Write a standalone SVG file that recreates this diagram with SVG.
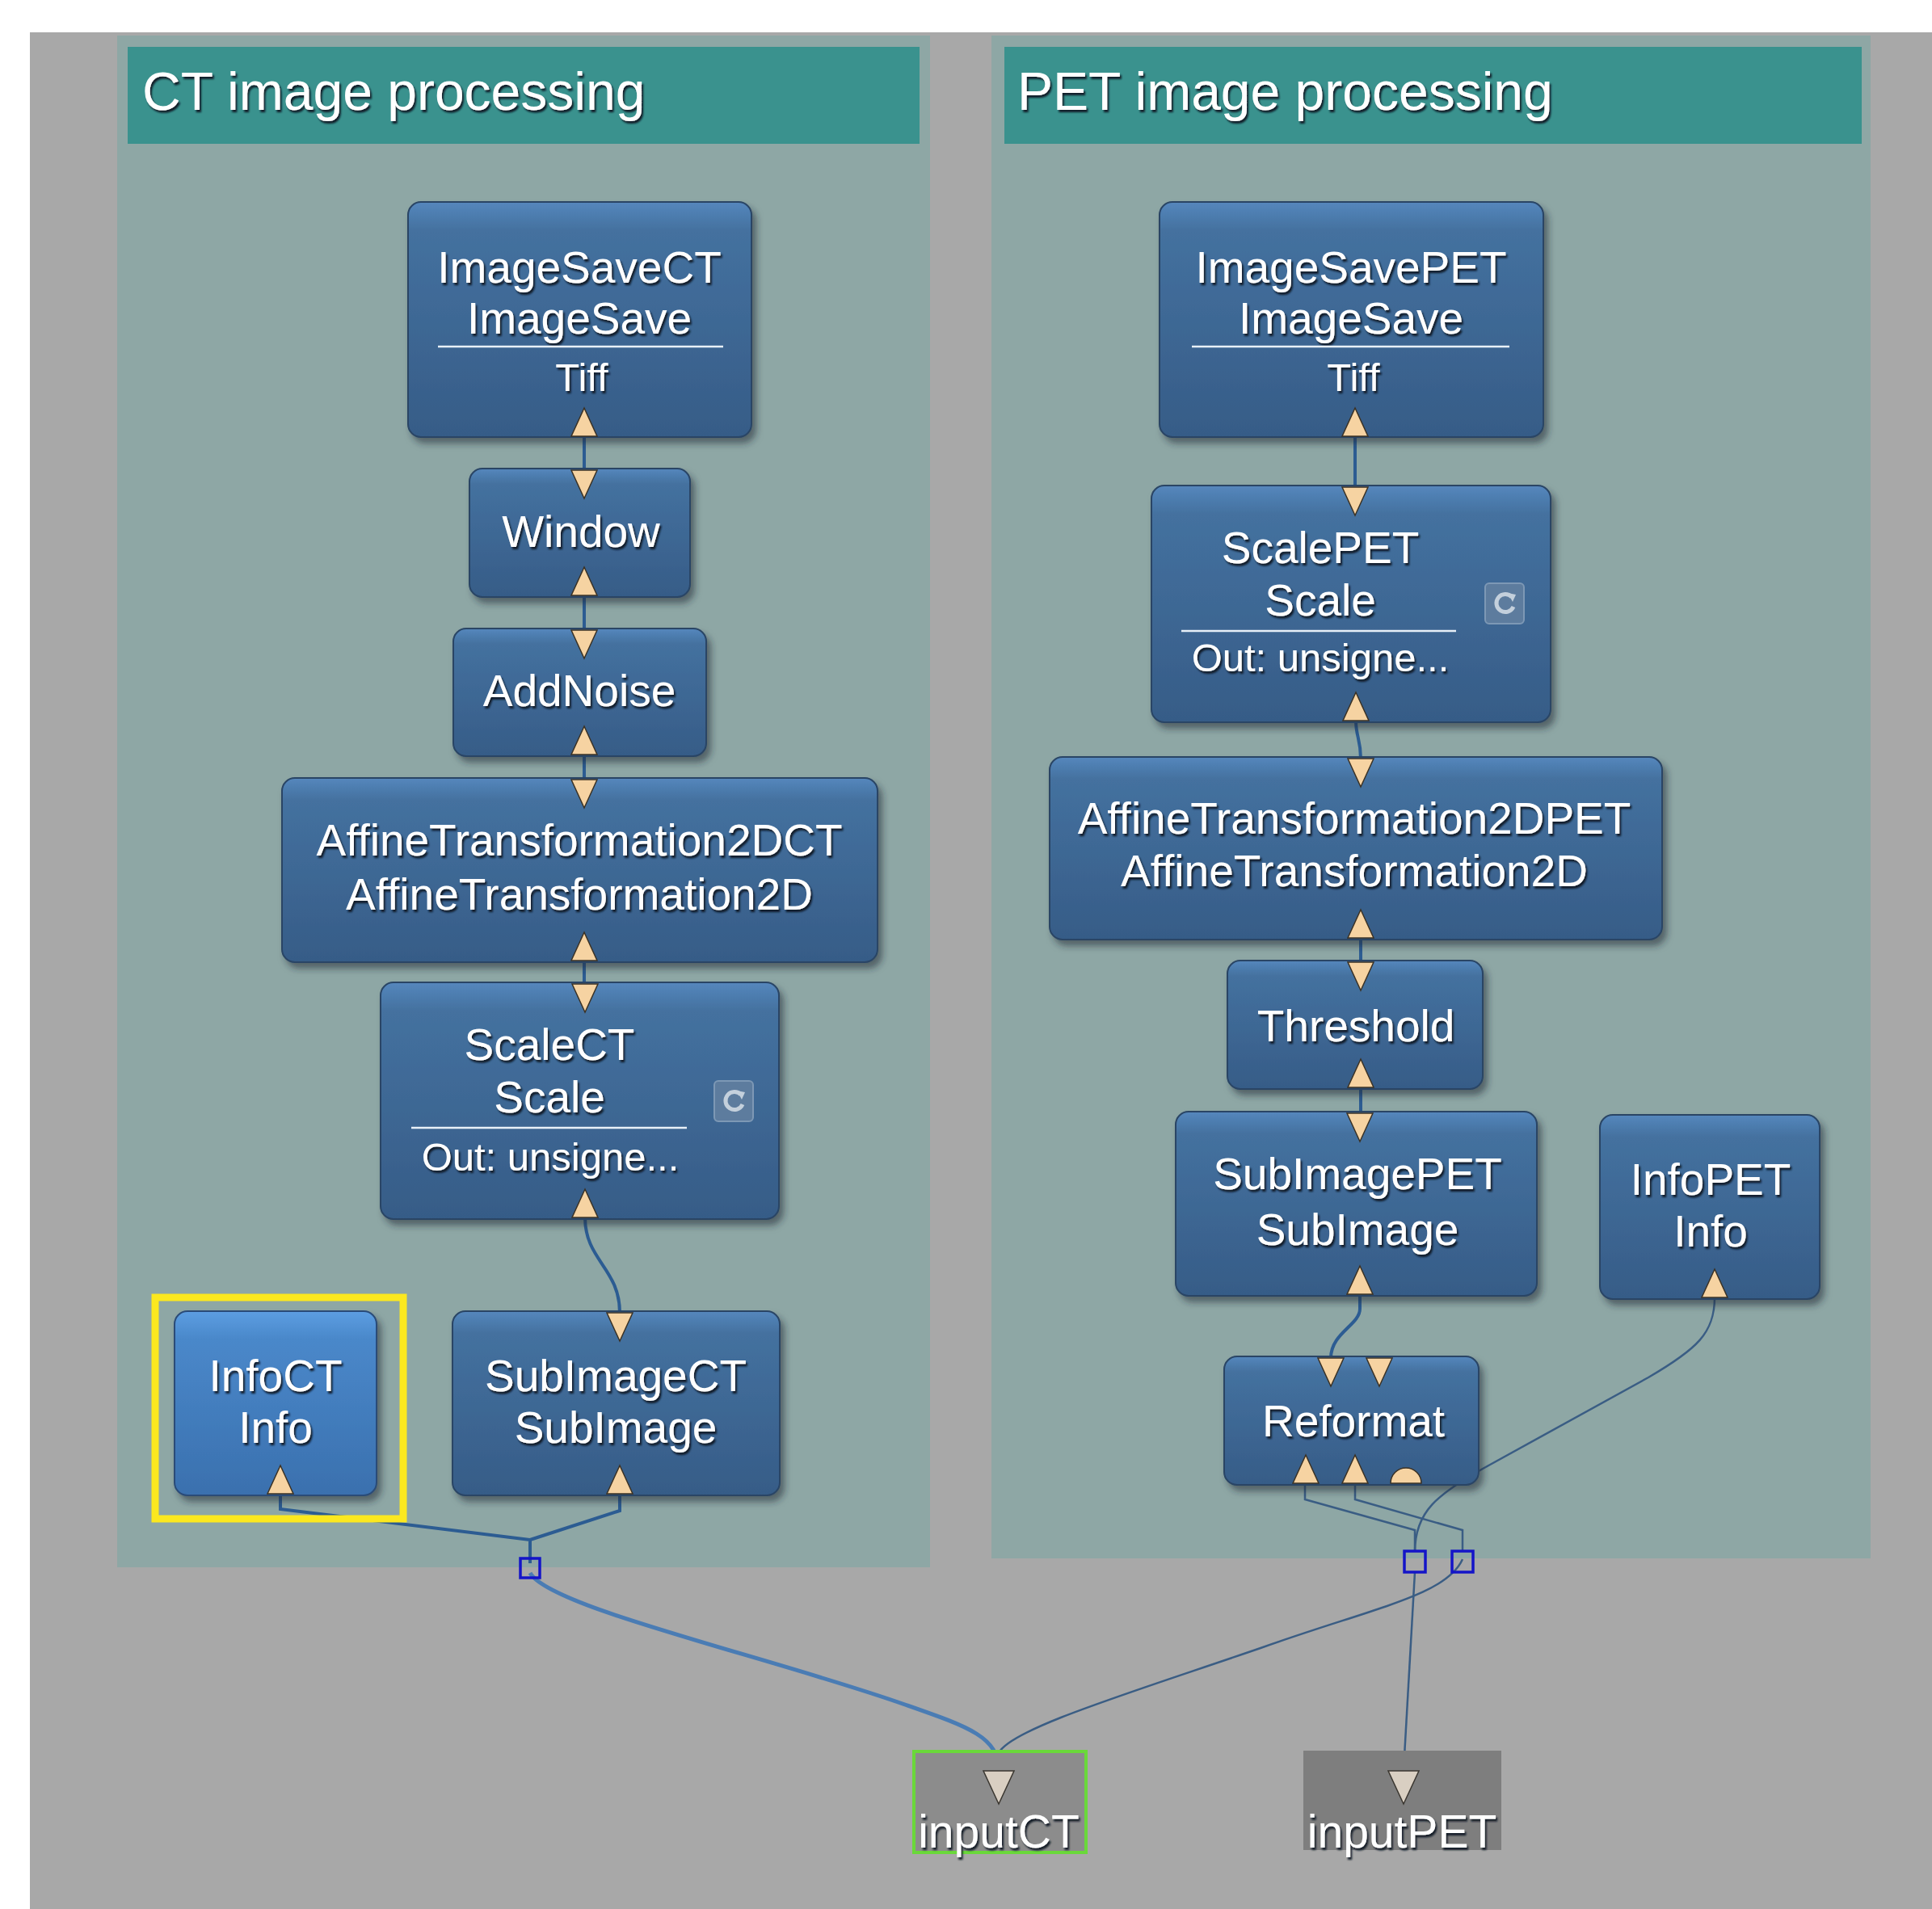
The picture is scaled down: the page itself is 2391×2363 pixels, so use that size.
<svg xmlns="http://www.w3.org/2000/svg" xmlns:xlink="http://www.w3.org/1999/xlink" width="2391" height="2363" viewBox="0 0 2391 2363">
<defs>
<style>
.t{font-family:"Liberation Sans",Arial,sans-serif;fill:#ffffff;text-anchor:middle;filter:url(#ts)}
.h{font-family:"Liberation Sans",Arial,sans-serif;fill:#ffffff;font-size:66px;filter:url(#ts)}
.n1{font-size:55px}
.n2{font-size:49px}
.node{fill:url(#ng);stroke:#294565;stroke-width:2;filter:url(#ds)}
.sel{fill:url(#sg);stroke:#2a4c78;stroke-width:2;filter:url(#ds)}
.sep{stroke:#e8f0f8;stroke-width:2.5}
.port{fill:#f6d3a2;stroke:#3b3225;stroke-width:1.5}
.c{fill:none;stroke:#2c5c92;stroke-width:4}
.thin{fill:none;stroke:#3a5d84;stroke-width:2.5}
.sq{fill:none;stroke:#1414c8;stroke-width:3.5}
.icon{fill:#5d7c9e;stroke:#7d98b5;stroke-width:2}
</style>
<linearGradient id="ng" x1="0" y1="0" x2="0" y2="1">
<stop offset="0" stop-color="#5587bd"/>
<stop offset="0.12" stop-color="#44719f"/>
<stop offset="1" stop-color="#365c87"/>
</linearGradient>
<linearGradient id="sg" x1="0" y1="0" x2="0" y2="1">
<stop offset="0" stop-color="#5c9ee2"/>
<stop offset="0.15" stop-color="#4a88ca"/>
<stop offset="1" stop-color="#3a70ae"/>
</linearGradient>
<filter id="ds" x="-10%" y="-10%" width="125%" height="130%">
<feDropShadow dx="5" dy="7" stdDeviation="4" flood-color="#1c2a36" flood-opacity="0.55"/>
</filter>
<filter id="ts" x="-5%" y="-20%" width="115%" height="150%">
<feDropShadow dx="2" dy="3" stdDeviation="0.8" flood-color="#0d1520" flood-opacity="0.95"/>
</filter>
<polygon id="tdown" class="port" points="-16,0 16,0 0,35"/>
<polygon id="tup" class="port" points="-16,35 16,35 0,0"/>
<g id="refresh">
<rect class="icon" x="0" y="0" width="48" height="50" rx="5"/>
<path d="M33,17 A11,11 0 1 0 35,29" fill="none" stroke="#c4d0dc" stroke-width="5"/>
<polygon points="28,12 38,14 34,23" fill="#c4d0dc"/>
</g>
</defs>

<rect x="0" y="0" width="2391" height="2363" fill="#ffffff"/>
<rect x="37" y="40" width="2354" height="2323" fill="#a8a8a8"/>

<g id="group-ct">
<rect x="145" y="44" width="1006" height="1896" fill="#8ea7a5"/>
<rect x="158" y="58" width="980" height="120" fill="#3a928e"/>
<text class="h" x="176" y="136">CT image processing</text>
</g>
<g id="group-pet">
<rect x="1227" y="44" width="1088" height="1885" fill="#8ea7a5"/>
<rect x="1243" y="58" width="1061" height="120" fill="#3a928e"/>
<text class="h" x="1259" y="136">PET image processing</text>
</g>

<g id="connectors">
<path class="c" d="M723,540 V582"/>
<path class="c" d="M723,737 V780"/>
<path class="c" d="M723,934 V965"/>
<path class="c" d="M723,1189 V1218"/>
<path class="c" d="M724,1507 C724,1560 767,1570 767,1625"/>
<path class="c" d="M347,1849 V1868 L656,1906 V1935"/>
<path class="c" d="M767,1849 V1870 L656,1906"/>
<path fill="none" stroke="#4a7cb4" stroke-width="5" d="M656,1947 C680,1990 950,2050 1120,2110 C1200,2138 1236,2150 1236,2192"/>
<path class="c" d="M1677,540 V603"/>
<path class="c" d="M1678,892 C1678,912 1684,915 1684,939"/>
<path class="c" d="M1684,1161 V1191"/>
<path class="c" d="M1684,1346 V1378"/>
<path class="c" d="M1683,1602 V1620 C1683,1640 1647,1650 1647,1681"/>
<path class="thin" d="M1615,1836 V1856 L1751,1894 V1921"/>
<path class="thin" d="M1677,1836 V1856 L1810,1894 V1921"/>
<path class="thin" d="M2122,1606 C2122,1650 2100,1670 2040,1705 L1835,1818 C1780,1850 1751,1870 1751,1921"/>
<path class="thin" d="M1751,1946 L1737,2192"/>
<path class="thin" d="M1810,1930 C1790,1975 1700,1990 1560,2040 C1400,2095 1250,2140 1236,2170"/>
<rect class="sq" x="644" y="1929" width="24" height="24"/>
<rect class="sq" x="1738" y="1920" width="26" height="26"/>
<rect class="sq" x="1797" y="1920" width="26" height="26"/>
</g>

<g id="ImageSaveCT">
<rect class="node" x="505" y="250" width="425" height="291" rx="16"/>
<text class="t n1" x="717" y="350">ImageSaveCT</text>
<text class="t n1" x="717" y="413">ImageSave</text>
<line class="sep" x1="542" y1="429" x2="895" y2="429"/>
<text class="t n2" x="720" y="484">Tiff</text>
<use href="#tup" x="723" y="505"/>
</g>
<g id="Window">
<rect class="node" x="581" y="580" width="273" height="159" rx="16"/>
<text class="t n1" x="719" y="677">Window</text>
<use href="#tdown" x="723" y="582"/>
<use href="#tup" x="723" y="702"/>
</g>
<g id="AddNoise">
<rect class="node" x="561" y="778" width="313" height="158" rx="16"/>
<text class="t n1" x="717" y="874">AddNoise</text>
<use href="#tdown" x="723" y="780"/>
<use href="#tup" x="723" y="899"/>
</g>
<g id="AffineTransformation2DCT">
<rect class="node" x="349" y="963" width="737" height="228" rx="16"/>
<text class="t n1" x="717" y="1059">AffineTransformation2DCT</text>
<text class="t n1" x="717" y="1126">AffineTransformation2D</text>
<use href="#tdown" x="723" y="965"/>
<use href="#tup" x="723" y="1154"/>
</g>
<g id="ScaleCT">
<rect class="node" x="471" y="1216" width="493" height="293" rx="16"/>
<text class="t n1" x="680" y="1312">ScaleCT</text>
<text class="t n1" x="680" y="1377">Scale</text>
<line class="sep" x1="509" y1="1396" x2="850" y2="1396"/>
<text class="t n2" x="681" y="1449">Out: unsigne...</text>
<use href="#refresh" x="884" y="1338"/>
<use href="#tdown" x="724" y="1218"/>
<use href="#tup" x="724" y="1472"/>
</g>
<g id="InfoCT">
<rect x="192" y="1606" width="307" height="274" fill="none" stroke="#fbe81f" stroke-width="9"/>
<rect class="sel" x="216" y="1623" width="250" height="228" rx="16"/>
<text class="t n1" x="341" y="1722">InfoCT</text>
<text class="t n1" x="341" y="1786">Info</text>
<use href="#tup" x="347" y="1814"/>
</g>
<g id="SubImageCT">
<rect class="node" x="560" y="1623" width="405" height="228" rx="16"/>
<text class="t n1" x="762" y="1722">SubImageCT</text>
<text class="t n1" x="762" y="1786">SubImage</text>
<use href="#tdown" x="767" y="1625"/>
<use href="#tup" x="767" y="1814"/>
</g>

<g id="ImageSavePET">
<rect class="node" x="1435" y="250" width="475" height="291" rx="16"/>
<text class="t n1" x="1672" y="350">ImageSavePET</text>
<text class="t n1" x="1672" y="413">ImageSave</text>
<line class="sep" x1="1475" y1="429" x2="1868" y2="429"/>
<text class="t n2" x="1675" y="484">Tiff</text>
<use href="#tup" x="1677" y="505"/>
</g>
<g id="ScalePET">
<rect class="node" x="1425" y="601" width="494" height="293" rx="16"/>
<text class="t n1" x="1634" y="697">ScalePET</text>
<text class="t n1" x="1634" y="762">Scale</text>
<line class="sep" x1="1462" y1="781" x2="1802" y2="781"/>
<text class="t n2" x="1634" y="831">Out: unsigne...</text>
<use href="#refresh" x="1838" y="722"/>
<use href="#tdown" x="1677" y="603"/>
<use href="#tup" x="1678" y="857"/>
</g>
<g id="AffineTransformation2DPET">
<rect class="node" x="1299" y="937" width="758" height="226" rx="16"/>
<text class="t n1" x="1676" y="1032">AffineTransformation2DPET</text>
<text class="t n1" x="1676" y="1097">AffineTransformation2D</text>
<use href="#tdown" x="1684" y="939"/>
<use href="#tup" x="1684" y="1126"/>
</g>
<g id="Threshold">
<rect class="node" x="1519" y="1189" width="316" height="159" rx="16"/>
<text class="t n1" x="1678" y="1289">Threshold</text>
<use href="#tdown" x="1684" y="1191"/>
<use href="#tup" x="1684" y="1311"/>
</g>
<g id="SubImagePET">
<rect class="node" x="1455" y="1376" width="447" height="228" rx="16"/>
<text class="t n1" x="1680" y="1472">SubImagePET</text>
<text class="t n1" x="1680" y="1541">SubImage</text>
<use href="#tdown" x="1683" y="1378"/>
<use href="#tup" x="1683" y="1567"/>
</g>
<g id="InfoPET">
<rect class="node" x="1980" y="1380" width="272" height="228" rx="16"/>
<text class="t n1" x="2117" y="1479">InfoPET</text>
<text class="t n1" x="2117" y="1543">Info</text>
<use href="#tup" x="2122" y="1571"/>
</g>
<g id="Reformat">
<rect class="node" x="1515" y="1679" width="315" height="159" rx="16"/>
<text class="t n1" x="1675" y="1778">Reformat</text>
<use href="#tdown" x="1647" y="1681"/>
<use href="#tdown" x="1707" y="1681"/>
<use href="#tup" x="1616" y="1801"/>
<use href="#tup" x="1677" y="1801"/>
<path class="port" d="M1721,1836 A19,19 0 0 1 1759,1836 Z"/>
</g>

<g id="inputCT">
<rect x="1131" y="2168" width="213" height="125" fill="#8c8c8c" stroke="#6ad83a" stroke-width="4"/>
<polygon points="1217,2192 1255,2192 1236,2233" fill="#d9cfc2" stroke="#3a3630" stroke-width="1.5"/>
<text class="t" x="1236" y="2287" font-size="57">inputCT</text>
</g>
<g id="inputPET">
<rect x="1613" y="2167" width="245" height="123" fill="#7e7e7e"/>
<polygon points="1718,2192 1756,2192 1737,2233" fill="#d9cfc2" stroke="#3a3630" stroke-width="1.5"/>
<text class="t" x="1735" y="2287" font-size="57">inputPET</text>
</g>
</svg>
